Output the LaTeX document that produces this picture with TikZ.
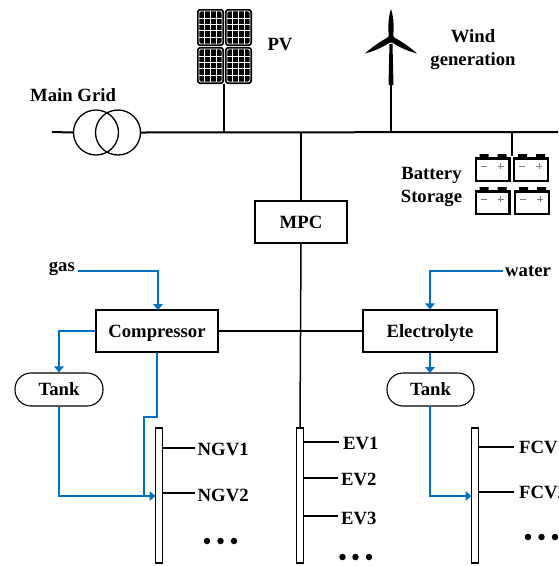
\documentclass[tikz,border=0pt]{standalone}
\usepackage{fontspec}
\setmainfont{Liberation Serif}
\usetikzlibrary{arrows.meta}
\definecolor{flow}{HTML}{0070C0}
\tikzset{
  x=1pt,y=-1pt,
  lab/.style={font=\fontsize{18.7}{23}\selectfont\bfseries,inner sep=0pt,align=center},
  wire/.style={draw=black,line width=1.5pt},
  mainbus/.style={draw=black,line width=2pt},
  boxn/.style={draw=black,line width=1.1pt,fill=white,font=\fontsize{18.7}{23}\selectfont\bfseries,inner sep=0pt,minimum height=42pt,text height=12.5pt,text depth=0pt},
  tankn/.style={draw=black,line width=1.1pt,fill=white,rounded corners=16pt,font=\fontsize{18.7}{23}\selectfont\bfseries,inner sep=0pt,minimum height=33pt,text height=12.5pt,text depth=0pt},
  barn/.style={draw=black,line width=1.5pt,fill=white,inner sep=0pt,minimum width=7pt,minimum height=135pt},
  flowl/.style={draw=flow,line width=1.5pt},
  flowa/.style={flowl,-{Triangle[length=6pt,width=9.5pt]}},
  dotn/.style={circle,fill=black,inner sep=0pt,minimum size=6.5pt},
  panel/.pic={
    \fill[black,rounded corners=3pt] (0,0) rectangle (27,37);
    \draw[white,line width=.8pt,rounded corners=2pt] (2,2) rectangle (25,35);
    \foreach \px in {7.5,13.5,19.5} \draw[white,line width=.7pt] (\px,2) -- (\px,35);
    \foreach \py in {9,15,21,28} \draw[white,line width=.7pt] (2,\py) -- (25,\py);
  },
  battery/.pic={
    \fill[black] (5,0) rectangle (14,5) (23,0) rectangle (32,5);
    \draw[line width=2.4pt,fill=white] (1.2,4.5) rectangle (35,27);
    \draw[gray,line width=.8pt] (6,12) -- (12,12) (23,12) -- (29,12) (26,9) -- (26,15);
  },
}
\begin{document}
\begin{tikzpicture}
\clip (0,0) rectangle (558,566);
\fill[white] (0,0) rectangle (558,566);

% main bus and transformer
\coordinate (gridin) at (52,132);
\coordinate (busend) at (558,132);
\coordinate (pvtap) at (224,132);
\coordinate (windtap) at (391,132);
\coordinate (mpctap) at (301,132);
\coordinate (battap) at (512,132);
\coordinate (batin) at (512,156);
\coordinate (pvout) at (224,84);
\coordinate (windfoot) at (391,85);
\node[circle,draw=black,line width=1.3pt,minimum size=45pt,inner sep=0pt] (tr1) at (96,132.5) {};
\node[circle,draw=black,line width=1.3pt,minimum size=45pt,inner sep=0pt] (tr2) at (118,132.5) {};
\draw[mainbus] (gridin) -- (tr1.west);
\draw[mainbus] (tr2.east) -- (busend);
\node[lab,anchor=west] (maingrid) at (30,95) {Main Grid};

% PV
\pic at (197,9) {panel};
\pic at (225,9) {panel};
\pic at (197,47) {panel};
\pic at (225,47) {panel};
\draw[wire] (pvout) -- (pvtap);
\node[lab] (pv) at (280,45) {PV};

% wind
\draw[wire] (windfoot) -- (windtap);
\fill[black] (388.5,85) -- (389.5,44) -- (392.5,44) -- (393.5,85) -- cycle;
\fill[black] (391,9) .. controls (388,18) and (388,28) .. (389,39) -- (393,39) .. controls (394,28) and (394,18) .. (391,9) -- cycle;
\fill[black] (365,53.5) .. controls (372,47) and (381,41) .. (389.5,36.5) -- (392,41) .. controls (385,46) and (375,51) .. (365,53.5) -- cycle;
\fill[black] (417,53.5) .. controls (410,47) and (401,41) .. (392.5,36.5) -- (390,41) .. controls (397,46) and (407,51) .. (417,53.5) -- cycle;
\fill[black] (391,39) circle (3.8pt);
\node[lab] (wind) at (473,49.5) {Wind\\generation};

% battery
\draw[line width=1.2pt] (battap) -- (batin);
\pic at (474.5,154) {battery};
\pic at (513,154) {battery};
\pic at (474.5,187) {battery};
\pic at (514,187) {battery};
\node[lab] (batt) at (431.5,186.5) {Battery\\Storage};

% control and converters
\node[boxn,minimum width=92pt] (mpc) at (301,222) {MPC};
\node[boxn,minimum width=122pt] (comp) at (157,331) {Compressor};
\node[boxn,minimum width=134pt] (elec) at (430,331) {Electrolyte};
\node[tankn,minimum width=88pt] (tank1) at (59,389.5) {Tank};
\node[tankn,minimum width=87pt] (tank2) at (430.5,389.5) {Tank};
\node[barn] (bar1) at (159,495.5) {};
\node[barn] (bar2) at (300,495.5) {};
\node[barn] (bar3) at (475,495.5) {};

\draw[wire] (mpctap) -- (mpc.north);
\draw[wire] (mpc.south) -- (bar2.north);
\draw[wire] (comp.east) -- (elec.west);

% flows
\node[lab,anchor=east] (gas) at (75,269) {gas};
\node[lab,anchor=west] (water) at (505,271) {water};
\coordinate (gasin) at (158,310);
\draw[flowa] (78,271) -- (158,271) -- (gasin);
\draw[flowa] (503,271) -- (430,271) -- (elec.north);
\draw[flowa] (comp.west) -- (59,331) -- (tank1.north);
\draw[flowa] (elec.south) -- (430,373);
\coordinate (in1) at (155.5,496);
\coordinate (in3) at (471.5,496);
\draw[flowl] (comp.south) -- (157,417) -- (144,417) -- (144,496);
\draw[flowa] (tank1.south) -- (59,496) -- (in1);
\draw[flowa] (430,406) -- (430,496) -- (in3);

% loads
\node[lab,anchor=west] (ngv1) at (197.5,449) {NGV1};
\node[lab,anchor=west] (ngv2) at (197.5,495) {NGV2};
\node[lab,anchor=west] (ev1) at (343,443.5) {EV1};
\node[lab,anchor=west] (ev2) at (341,479.5) {EV2};
\node[lab,anchor=west] (ev3) at (341,518) {EV3};
\node[lab,anchor=west] (fcv1) at (519,447) {FCV1};
\node[lab,anchor=west] (fcv2) at (519,492) {FCV2};
\coordinate (s1a) at (163,448);
\coordinate (s1b) at (195,448);
\coordinate (s2a) at (163,493);
\coordinate (s2b) at (195,493);
\coordinate (e1a) at (304,442);
\coordinate (e1b) at (339,442);
\coordinate (e2a) at (304,478);
\coordinate (e2b) at (338,478);
\coordinate (e3a) at (304,516);
\coordinate (e3b) at (338,516);
\draw[wire] (s1a) -- (s1b);
\draw[wire] (s2a) -- (s2b);
\draw[wire] (e1a) -- (e1b);
\draw[wire] (e2a) -- (e2b);
\draw[wire] (e3a) -- (e3b);
\draw[wire] (bar3.east|-fcv1) -- (514,447);
\draw[wire] (bar3.east|-fcv2) -- (514,492);

% dots
\foreach \n/\cx/\cy in {a1/207/541,a2/220.5/541,a3/234/541,b1/342.5/557,b2/355.5/557,b3/369/557,c1/528/537,c2/541.5/537,c3/555/537}
  \node[dotn] (dot\n) at (\cx,\cy) {};
\end{tikzpicture}
\end{document}
